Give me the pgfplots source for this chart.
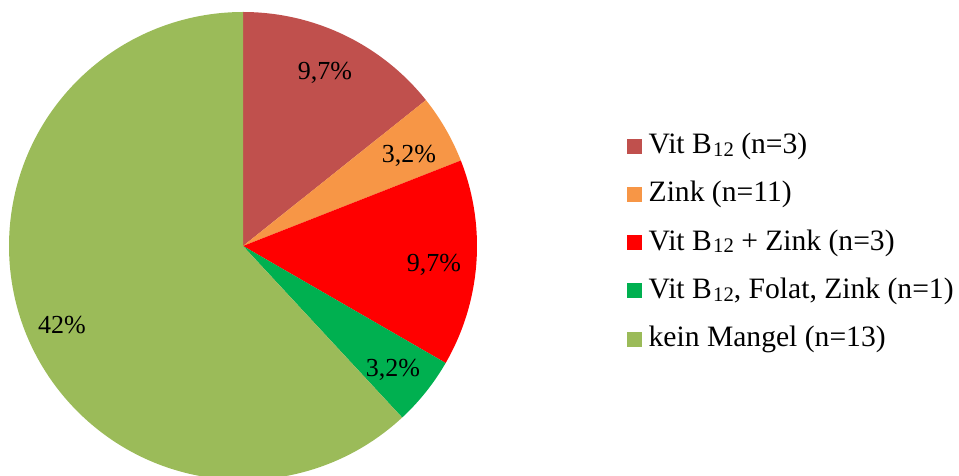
\documentclass[border=0pt]{standalone}
\usepackage{pgfplots}
\usepackage{pgfplotstable}
\pgfplotsset{compat=1.18}
\usepackage{fontspec}
\setmainfont{Liberation Serif}
\definecolor{slice0}{HTML}{C0504D}
\definecolor{slice1}{HTML}{F79646}
\definecolor{slice2}{HTML}{FF0000}
\definecolor{slice3}{HTML}{00B050}
\definecolor{slice4}{HTML}{9BBB59}
\newcommand\sub[1]{\kern1pt\raisebox{-2.2pt}{\fontsize{15.5}{15.5}\selectfont #1}}

\pgfplotstableread{
value
3
1
3
1
13
}\piedata

\begin{document}
\begin{tikzpicture}
\begin{axis}[
  at={(0,0)}, anchor=south west,
  x=0.75pt, y=0.75pt,
  xmin=0, xmax=959, ymin=0, ymax=475,
  hide axis, clip=true,
  legend style={at={(axis description cs:0.6538,0.7217)}, anchor=north west, draw=none, fill=none, inner sep=0pt, outer sep=0pt, font=\fontsize{22.2}{26}\selectfont, row sep=15.2pt, column sep=5pt, nodes={inner sep=0pt, text height=16pt, text depth=5pt}},
  legend cell align=left,
  legend image code/.code={\fill[#1, draw=none] (0pt,-5.625pt) rectangle (11.25pt,5.625pt);},
]
\xdef\total{0}
\pgfplotstableforeachcolumnelement{value}\of\piedata\as\v{%
  \pgfmathsetmacro\t{\total+\v}\xdef\total{\t}}
\xdef\cum{0}
\pgfplotstableforeachcolumnelement{value}\of\piedata\as\v{%
  \pgfmathsetmacro\sa{90-360*\cum/\total}%
  \pgfmathsetmacro\newcum{\cum+\v}%
  \xdef\cum{\newcum}%
  \pgfmathsetmacro\ea{90-360*\cum/\total}%
  \edef\cmd{\noexpand\fill[slice\pgfplotstablerow] (axis cs:243,229) -- ++(\sa:175.5pt) arc[start angle=\sa, end angle=\ea, radius=175.5pt] -- cycle;}%
  \cmd
}
\begin{scope}[every node/.style={inner sep=0pt, anchor=base, font=\fontsize{19.5}{23}\selectfont}]
\node at (axis cs:325,395) {9,7\%};
\node at (axis cs:409,312) {3,2\%};
\node at (axis cs:434,203) {9,7\%};
\node at (axis cs:393,99) {3,2\%};
\node at (axis cs:62,142) {42\%};
\end{scope}
\addlegendimage{fill=slice0, draw=none}
\addlegendentry{Vit B\sub{12} (n=3)}
\addlegendimage{fill=slice1, draw=none}
\addlegendentry{Zink (n=11)}
\addlegendimage{fill=slice2, draw=none}
\addlegendentry{Vit B\sub{12} + Zink (n=3)}
\addlegendimage{fill=slice3, draw=none}
\addlegendentry{Vit B\sub{12}, Folat, Zink (n=1)}
\addlegendimage{fill=slice4, draw=none}
\addlegendentry{kein Mangel (n=13)}
\end{axis}
\pgfresetboundingbox
\path (0,0) rectangle (719.25pt,356.25pt);
\end{tikzpicture}
\end{document}
